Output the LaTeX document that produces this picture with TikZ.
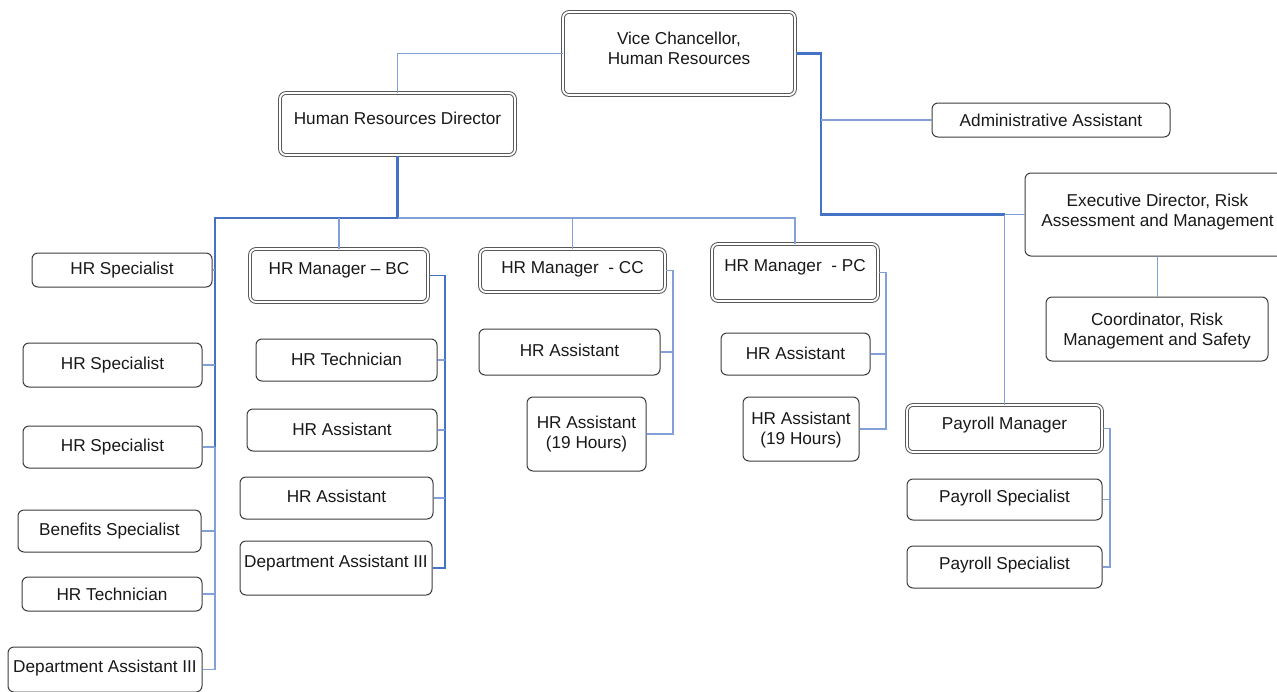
\documentclass[tikz,border=0pt]{standalone}
\usepackage{fontspec}
\setmainfont{Liberation Sans}
\definecolor{trunkblue}{RGB}{68,114,196}
\definecolor{linkblue}{RGB}{130,160,215}
\definecolor{boxline}{RGB}{60,60,60}
\definecolor{txtcol}{RGB}{25,25,25}
\tikzset{
  box/.style={draw=boxline, rounded corners=6pt, line width=1pt, fill=white},
  dbox/.style={draw=boxline!85, double=white, double distance=1.8pt, line width=1pt, rounded corners=6pt, fill=white},
  txt/.style={font=\fontsize{17.2}{20}\selectfont, text=txtcol, align=center, inner sep=0pt},
  lnk/.style={draw=linkblue, line width=1.6pt},
  trunk/.style={draw=trunkblue, line width=2.2pt}
}
\newcommand\obox[8]{%
  \node[#1, minimum width={#5-#3}, minimum height={#6-#4}, inner sep=0pt] (#2) at ({(#3+#5)/2},{(#4+#6)/2}) {};
  \node[txt] (#2t) at ({(#3+#5)/2},#7) {#8};}
\begin{document}
\begin{tikzpicture}[x=1pt,y=-1pt]
\useasboundingbox (0,0) rectangle (1277,691);
\clip (0,0) rectangle (1277,691);
\obox{dbox}{vc}{563}{12}{795}{95}{48}{Vice Chancellor,\\Human Resources}
\obox{dbox}{hrd}{280}{93}{515}{155}{118}{Human Resources Director}
\obox{box}{adm}{932}{103}{1170}{137}{120}{Administrative Assistant}
\obox{box}{exec}{1025}{173}{1290}{256}{212}{Executive Director, Risk\\Assessment and Management}
\obox{box}{coord}{1046}{297}{1268}{361}{331}{Coordinator, Risk\\Management and Safety}
\obox{box}{hsa}{32}{253}{212}{287}{270}{HR Specialist}
\obox{box}{hsb}{23}{343}{202}{387}{365}{HR Specialist}
\obox{box}{hsc}{23}{426}{202}{468}{447}{HR Specialist}
\obox{box}{ben}{18}{510}{201}{552}{531}{Benefits Specialist}
\obox{box}{ltech}{22}{577}{202}{611}{594}{HR Technician}
\obox{box}{ldept}{8}{647}{202}{692}{668}{Department Assistant III}
\obox{dbox}{bc}{250}{249}{428}{302}{270}{HR Manager -- BC}
\obox{box}{btech}{256}{339}{437}{381}{359}{HR Technician}
\obox{box}{baa}{247}{409}{437}{451}{429}{HR Assistant}
\obox{box}{bab}{240}{477}{433}{519}{496}{HR Assistant}
\obox{box}{bdept}{240}{541}{432}{595}{563}{Department Assistant III}
\obox{dbox}{cc}{480}{249}{665}{292}{269}{HR Manager~ - CC}
\obox{box}{caa}{479}{329}{660}{375}{350}{HR Assistant}
\obox{box}{cab}{527}{397}{646}{471}{434}{HR Assistant\\(19 Hours)}
\obox{dbox}{pc}{712}{244}{878}{301}{267}{HR Manager~ - PC}
\obox{box}{paa}{721}{333}{870}{375}{353}{HR Assistant}
\obox{box}{pab}{743}{397}{859}{461}{430}{HR Assistant\\(19 Hours)}
\obox{dbox}{pm}{907}{405}{1102}{452}{425}{Payroll Manager}
\obox{box}{psa}{907}{479}{1102}{520}{498}{Payroll Specialist}
\obox{box}{psb}{907}{546}{1102}{588}{565}{Payroll Specialist}
% top level
\draw[lnk] (vc.west) -| (hrd.north);
\coordinate (j1) at (821,0);
\coordinate (j2) at (pm.north |- exec.west);
\draw[trunk] (vc.east) -| (j1 |- exec.west) -- (j2);
\draw[lnk] (j2) -- (exec.west);
\draw[lnk] (j2) -- (pm.north);
\draw[lnk] (adm.west) -- (adm.west -| j1);
\draw[lnk] (exec.south) -- (exec.south |- coord.north);
% HR director
\coordinate (jh) at (hrd.south |- 0,218);
\coordinate (ls) at (215,218);
\draw[trunk] (hrd.south) -- (jh) -- (ls) -- (ls |- hsc.east);
\draw[lnk] (ls |- hsc.east) -- (ls |- ldept.east) -- (ldept.east);
\draw[lnk] (jh) -- (jh -| pc.north) -- (pc.north);
\draw[lnk] (bc.north |- jh) -- (bc.north);
\draw[lnk] (cc.north |- jh) -- (cc.north);
\foreach \n in {hsa,hsb,hsc,ben,ltech} \draw[lnk] (\n.east) -- (\n.east -| ls);
% BC
\coordinate (bs) at (445,0);
\draw[trunk, line width=1.9pt] (bc.east) -- (bc.east -| bs) -- (bs |- bdept.east) -- (bdept.east);
\foreach \n in {btech,baa,bab} \draw[lnk] (\n.east) -- (\n.east -| bs);
% CC
\coordinate (cs) at (673,0);
\draw[lnk] (cc.east) -- (cc.east -| cs) -- (cs |- cab.east) -- (cab.east);
\draw[lnk] (caa.east) -- (caa.east -| cs);
% PC
\coordinate (ps) at (886,0);
\draw[lnk] (pc.east) -- (pc.east -| ps) -- (ps |- pab.east) -- (pab.east);
\draw[lnk] (paa.east) -- (paa.east -| ps);
% Payroll
\coordinate (qs) at (1110,0);
\draw[lnk] (pm.east) -- (pm.east -| qs) -- (qs |- psb.east) -- (psb.east);
\draw[lnk] (psa.east) -- (psa.east -| qs);
\end{tikzpicture}
\end{document}
